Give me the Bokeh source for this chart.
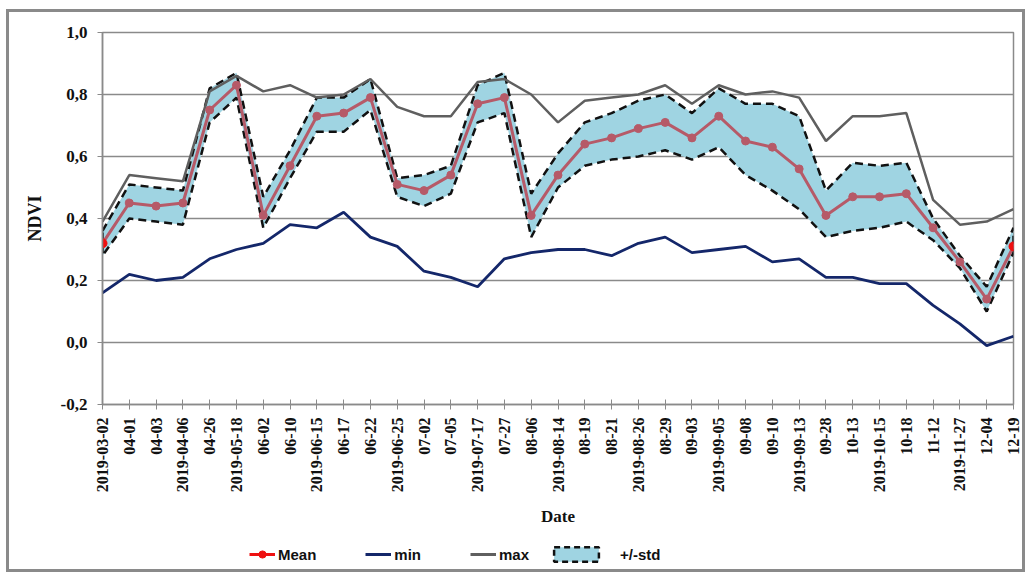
import math
from bokeh.plotting import figure
from bokeh.layouts import column
from bokeh.models import (Range1d, FixedTicker, CustomJSTickFormatter, Legend, LegendItem)
from bokeh.embed import file_html
from bokeh.resources import INLINE

dates = ["2019-03-02", "04-01", "04-03", "2019-04-06", "04-26", "2019-05-18", "06-02", "06-10",
         "2019-06-15", "06-17", "06-22", "2019-06-25", "07-02", "07-05", "2019-07-17", "07-27",
         "08-06", "2019-08-14", "08-19", "08-21", "2019-08-26", "08-29", "09-03", "2019-09-05",
         "09-08", "09-10", "2019-09-13", "09-28", "10-13", "2019-10-15", "10-18", "11-12",
         "2019-11-27", "12-04", "12-19"]

mean_v = [0.32, 0.45, 0.44, 0.45, 0.75, 0.83, 0.41, 0.57, 0.73, 0.74, 0.79, 0.51, 0.49, 0.54,
          0.77, 0.79, 0.41, 0.54, 0.64, 0.66, 0.69, 0.71, 0.66, 0.73, 0.65, 0.63, 0.56, 0.41,
          0.47, 0.47, 0.48, 0.37, 0.26, 0.14, 0.31]
upper_v = [0.36, 0.51, 0.50, 0.49, 0.82, 0.87, 0.47, 0.62, 0.79, 0.79, 0.85, 0.53, 0.54, 0.57,
           0.83, 0.87, 0.48, 0.61, 0.71, 0.74, 0.78, 0.80, 0.74, 0.82, 0.77, 0.77, 0.73, 0.49,
           0.58, 0.57, 0.58, 0.40, 0.28, 0.18, 0.37]
lower_v = [0.28, 0.40, 0.39, 0.38, 0.71, 0.79, 0.37, 0.53, 0.68, 0.68, 0.75, 0.47, 0.44, 0.48,
           0.71, 0.74, 0.34, 0.50, 0.57, 0.59, 0.60, 0.62, 0.59, 0.63, 0.54, 0.49, 0.43, 0.34,
           0.36, 0.37, 0.39, 0.33, 0.24, 0.10, 0.29]
max_v = [0.39, 0.54, 0.53, 0.52, 0.81, 0.86, 0.81, 0.83, 0.79, 0.80, 0.85, 0.76, 0.73, 0.73,
         0.84, 0.85, 0.80, 0.71, 0.78, 0.79, 0.80, 0.83, 0.77, 0.83, 0.80, 0.81, 0.79, 0.65,
         0.73, 0.73, 0.74, 0.46, 0.38, 0.39, 0.43]
min_v = [0.16, 0.22, 0.20, 0.21, 0.27, 0.30, 0.32, 0.38, 0.37, 0.42, 0.34, 0.31, 0.23, 0.21,
         0.18, 0.27, 0.29, 0.30, 0.30, 0.28, 0.32, 0.34, 0.29, 0.30, 0.31, 0.26, 0.27, 0.21,
         0.21, 0.19, 0.19, 0.12, 0.06, -0.01, 0.02]
y_ticks = [-0.2, 0.0, 0.2, 0.4, 0.6, 0.8, 1.0]

C_MEAN = "#b65a68"
C_RED = "#ee1111"
C_MIN = "#14276a"
C_MAX = "#5f5f5f"
C_BAND = "#9fd4e2"
C_GRID = "#8a8a8a"

xs = list(range(len(dates)))

p = figure(width=1013, height=521, output_backend="svg", toolbar_location=None,
           x_range=Range1d(0, len(dates) - 1), y_range=Range1d(-0.2, 1.0),
           min_border_left=93, min_border_right=9, min_border_top=20, min_border_bottom=129)

p.outline_line_color = C_GRID
p.outline_line_width = 1.5
p.xgrid.grid_line_color = None
p.ygrid.grid_line_color = C_GRID
p.ygrid.grid_line_width = 1.3
p.ygrid.ticker = FixedTicker(ticks=y_ticks)

p.yaxis.ticker = FixedTicker(ticks=y_ticks)
p.yaxis.formatter = CustomJSTickFormatter(code="return tick.toFixed(1).replace('.', ',');")
p.yaxis.axis_label = "NDVI"
p.xaxis.ticker = FixedTicker(ticks=xs)
p.xaxis.major_label_overrides = {i: d for i, d in zip(xs, dates)}
p.xaxis.major_label_orientation = math.pi / 2
p.xaxis.axis_label = "Date"
for ax in (p.xaxis[0], p.yaxis[0]):
    ax.axis_line_color = C_GRID
    ax.axis_line_width = 1.5
    ax.major_tick_line_color = C_GRID
    ax.minor_tick_line_color = None
    ax.major_label_text_font = "Liberation Serif"
    ax.major_label_text_font_style = "bold"
    ax.major_label_text_color = "#111111"
    ax.axis_label_text_font = "Liberation Serif"
    ax.axis_label_text_font_style = "bold"
    ax.axis_label_text_color = "#111111"
p.xaxis.major_tick_in = 5
p.xaxis.major_tick_out = 5
p.xaxis.major_label_text_font_size = "16px"
p.xaxis.major_label_standoff = 8
p.xaxis.axis_label_text_font_size = "17px"
p.xaxis.axis_label_standoff = 12
p.yaxis.major_tick_in = 0
p.yaxis.major_tick_out = 5
p.yaxis.major_label_text_font_size = "17px"
p.yaxis.major_label_standoff = 10
p.yaxis.axis_label_text_font_size = "18px"
p.yaxis.axis_label_standoff = 13

p.patch(x=xs + xs[::-1], y=upper_v + lower_v[::-1], fill_color=C_BAND,
        line_color="#111111", line_width=2.5, line_dash="8 5")
p.line(xs, max_v, line_color=C_MAX, line_width=2.5)
p.line(xs, min_v, line_color=C_MIN, line_width=2.8)
p.line(xs, mean_v, line_color=C_MEAN, line_width=3)
p.scatter(xs, mean_v, size=8, fill_color=C_MEAN, line_color=C_MEAN)
p.scatter([xs[0], xs[-1]], [mean_v[0], mean_v[-1]], size=9, fill_color=C_RED, line_color=C_RED)

# legend strip below the chart (its renderers lie outside its visible range)
lg = figure(width=1013, height=36, output_backend="svg", toolbar_location=None,
            x_range=Range1d(100, 101), y_range=Range1d(100, 101),
            x_axis_location=None, y_axis_location=None,
            min_border_left=0, min_border_right=0, min_border_top=0, min_border_bottom=0)
lg.grid.grid_line_color = None
lg.outline_line_color = None
r_mean_l = lg.line([xs[0]], [mean_v[0]], line_color=C_RED, line_width=3)
r_mean_p = lg.scatter([xs[0]], [mean_v[0]], size=9, fill_color=C_RED, line_color=C_RED)
r_min = lg.line([xs[0]], [min_v[0]], line_color=C_MIN, line_width=3)
r_max = lg.line([xs[0]], [max_v[0]], line_color=C_MAX, line_width=3)
r_band = lg.patch([xs[0]], [upper_v[0]], fill_color=C_BAND, line_color="#111111",
                  line_width=2.5, line_dash="6 4")


def style_legend(lgd):
    lgd.border_line_color = None
    lgd.background_fill_alpha = 0
    lgd.padding = 6
    lgd.glyph_height = 18
    lgd.label_text_font = "Liberation Sans"
    lgd.label_text_font_style = "bold"
    lgd.label_text_font_size = "15px"
    lgd.label_text_color = "#111111"


leg1 = Legend(items=[
    LegendItem(label="Mean", renderers=[r_mean_l, r_mean_p]),
    LegendItem(label="min", renderers=[r_min]),
    LegendItem(label="max", renderers=[r_max]),
], orientation="horizontal", location=(147, 6))
style_legend(leg1)
leg1.glyph_width = 26
leg1.label_standoff = 3
leg1.spacing = 49

leg2 = Legend(items=[LegendItem(label="+/-std", renderers=[r_band])],
              orientation="horizontal", location=(446, 6))
style_legend(leg2)
leg2.glyph_width = 56
leg2.label_standoff = 16
lg.add_layout(leg1)
lg.add_layout(leg2)

layout = column(p, lg, spacing=0, margin=(9, 0, 0, 6),
                styles={"border": "3px solid #8a8a8a"})

open("out.html", "w").write(file_html(layout, INLINE))
